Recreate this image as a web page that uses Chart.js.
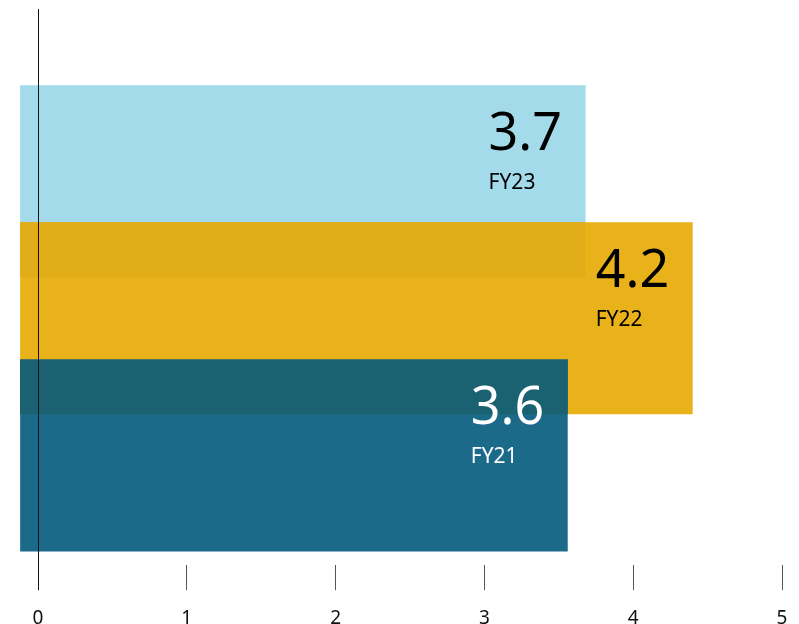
<!DOCTYPE html>
<html>
<head>
<meta charset="utf-8">
<title>FY bars</title>
<script src="https://cdn.jsdelivr.net/npm/chart.js@4/dist/chart.umd.min.js"></script>
<style>
  html, body { margin: 0; padding: 0; background: #fff; }
  #wrap { width: 799px; height: 624px; }
</style>
</head>
<body>
<div id="wrap"><canvas id="fyChart"></canvas></div>
<script>
// ─── Data ───
const categories = ['FY23', 'FY22', 'FY21'];
const valueLabels = ['3.7', '4.2', '3.6'];      // printed inside the bars
const barStart = [-0.12, -0.12, -0.12];         // bars begin a little left of 0
const barEnd = [3.68, 4.40, 3.56];              // where each bar stops on the axis
const xTicks = [0, 1, 2, 3, 4, 5];

// ─── Styles ───
const barColors = ['#a4dbeb', '#e9b11a', '#1c6a89'];
const overlapColors = [null, '#e0ad18', '#1a6171'];
const textColors = ['#000', '#000', '#fff'];
const FONT = "'Noto Sans', 'Open Sans', sans-serif";

const rowPos = categories.map((c, i) => i + 1);
const rows = categories.map((c, i) => ({ x: [barStart[i], barEnd[i]], y: rowPos[i] }));

// darken the strip where a bar sits on the one above, then write the labels
const barText = {
    id: 'barText',
    afterDatasetsDraw(chart) {
        const ctx = chart.ctx;
        const bars = chart.getDatasetMeta(0).data;
        const rect = b => {
            const p = b.getProps(['x', 'y', 'base', 'height'], true);
            return { l: Math.min(p.x, p.base), r: Math.max(p.x, p.base), t: p.y - p.height / 2, b: p.y + p.height / 2 };
        };
        ctx.save();
        for (let i = 1; i < bars.length; i++) {
            const a = rect(bars[i - 1]), b = rect(bars[i]);
            const l = Math.max(a.l, b.l), r = Math.min(a.r, b.r);
            const t = Math.max(a.t, b.t), bt = Math.min(a.b, b.b);
            if (r > l && bt > t && overlapColors[i]) {
                ctx.fillStyle = overlapColors[i];
                ctx.fillRect(l, t, r - l, bt - t);
            }
        }
        ctx.textAlign = 'left';
        ctx.textBaseline = 'alphabetic';
        bars.forEach((bar, i) => {
            const r = rect(bar);
            const x = r.r - 97;
            ctx.fillStyle = textColors[i];
            ctx.font = `52px ${FONT}`;
            ctx.fillText(valueLabels[i], x, r.t + 65);
            ctx.font = `21px ${FONT}`;
            ctx.fillText(categories[i], x, r.t + 104);
        });
        ctx.restore();
    }
};

new Chart(document.getElementById('fyChart'), {
    type: 'bar',
    data: {
        datasets: [{
            data: rows,
            backgroundColor: barColors,
            borderWidth: 0,
            categoryPercentage: 1,
            barPercentage: 1.4,
            clip: false
        }]
    },
    options: {
        indexAxis: 'y',
        responsive: true,
        maintainAspectRatio: false,
        animation: false,
        layout: { padding: { top: 9, left: 38, right: 17, bottom: -23 } },
        plugins: { legend: { display: false }, tooltip: { enabled: false } },
        scales: {
            y: {
                type: 'linear',
                display: false,
                reverse: true,
                offset: false,
                min: -0.255,
                max: 3.8,
                // one tick per row so the bar width is measured from row spacing
                afterBuildTicks: axis => { axis.ticks = rowPos.map(v => ({ value: v })); }
            },
            x: {
                type: 'linear',
                min: xTicks[0],
                max: xTicks[xTicks.length - 1],
                z: 1,
                afterBuildTicks: axis => { axis.ticks = xTicks.map(v => ({ value: v })); },
                // side room comes from layout padding only
                afterFit: axis => { axis.paddingLeft = 0; axis.paddingRight = 0; },
                border: { display: false },
                grid: {
                    z: 1,
                    drawOnChartArea: true,
                    color: c => (c.tick && c.tick.value === 0 ? '#111' : 'rgba(0,0,0,0)'),
                    tickColor: c => (c.tick && c.tick.value === 0 ? '#111' : '#555'),
                    lineWidth: 1,
                    tickLength: 25
                },
                ticks: {
                    color: '#111',
                    padding: 17,
                    font: { family: FONT, size: 19 }
                }
            }
        }
    },
    plugins: [barText]
});
</script>
</body>
</html>
